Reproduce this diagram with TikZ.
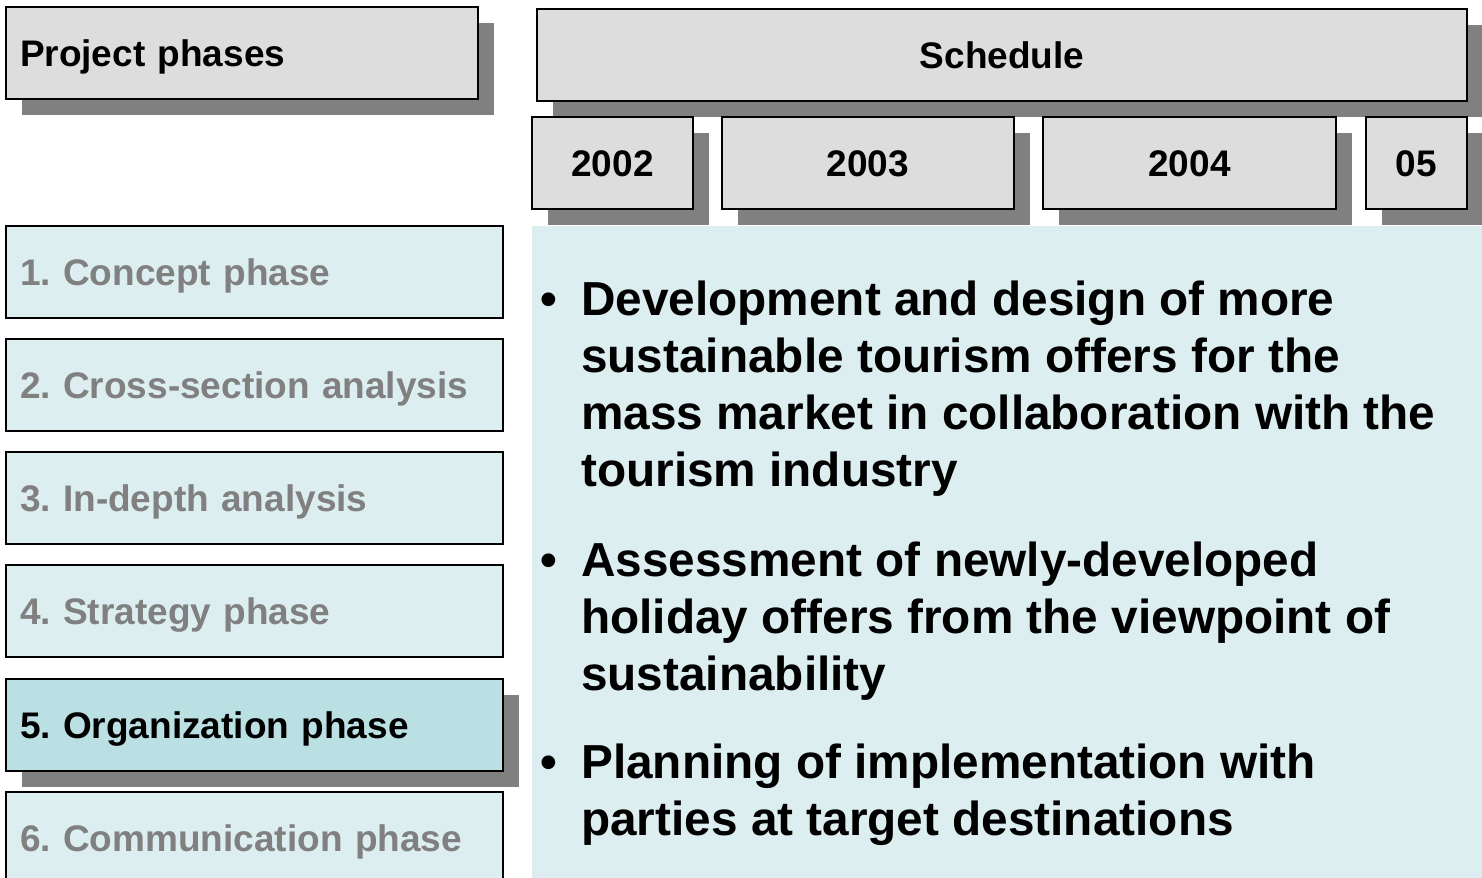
\documentclass[tikz,border=0pt]{standalone}
\usepackage{fontspec}
\setmainfont{Liberation Sans}
\usetikzlibrary{shadows}
\definecolor{hdrgray}{HTML}{DDDDDD}
\definecolor{shadowgray}{HTML}{808080}
\definecolor{panelblue}{HTML}{DDEEF0}
\definecolor{activeblue}{HTML}{BBE0E3}
\definecolor{mutedtext}{HTML}{808080}
\frenchspacing
\begin{document}
\begin{tikzpicture}[x=0.75pt,y=-0.75pt,
  box/.style={draw=black, line width=1.3pt, inner sep=0pt, minimum height=69pt},
  shad/.style={drop shadow={shadow xshift=12pt, shadow yshift=-12pt, fill=shadowgray, opacity=1}},
  lbl/.style={font=\bfseries\fontsize{27.75}{33}\selectfont, text height=19.9pt, text depth=0pt},
  hdr/.style={box, shad, fill=hdrgray, lbl},
  phase/.style={box, fill=panelblue, lbl, text=mutedtext, minimum width=372.75pt, text width=351.75pt, align=left},
  activephase/.style={phase, shad, fill=activeblue, text=black},
  bulletitem/.style={anchor=base west, inner sep=0pt, font=\bfseries\fontsize{35.8}{42.75}\selectfont}
]
\useasboundingbox (0,0) rectangle (1482,878);
\clip (0,0) rectangle (1482,878);
\fill[white] (0,0) rectangle (1482,878);

% content panel
\fill[panelblue] (532,226) rectangle (1482,878);

% headers
\node[hdr, minimum width=354pt, text width=333pt, align=left] (proj) at (242,53) {Project phases};
\node[hdr, minimum width=697.5pt] (sched) at (1002,55) {Schedule};

% years
\node[hdr, minimum width=120.75pt] (y2002) at (612.5,163) {2002};
\node[hdr, minimum width=219pt] (y2003) at (868,163) {2003};
\node[hdr, minimum width=219.75pt] (y2004) at (1189.5,163) {2004};
\node[hdr, minimum width=75.75pt] (y2005) at (1416.5,163) {05};

% phases
\node[phase] (p1) at (254.5,272) {1. Concept phase};
\node[phase] (p2) at (254.5,385) {2. Cross-section analysis};
\node[phase] (p3) at (254.5,498) {3. In-depth analysis};
\node[phase] (p4) at (254.5,611) {4. Strategy phase};
\node[activephase] (p5) at (254.5,725) {5. Organization phase};
\node[phase] (p6) at (254.5,838) {6. Communication phase};

% bullets
\node[bulletitem] (b1) at (540,315) {\begin{tabular}[t]{@{}l@{}l@{}}\makebox[30.75pt][l]{•}&Development and design of more\\ &sustainable tourism offers for the\\ &mass market in collaboration with the\\ &tourism industry\end{tabular}};
\node[bulletitem] (b2) at (540,576) {\begin{tabular}[t]{@{}l@{}l@{}}\makebox[30.75pt][l]{•}&Assessment of newly-developed\\ &holiday offers from the viewpoint of\\ &sustainability\end{tabular}};
\node[bulletitem] (b3) at (540,778) {\begin{tabular}[t]{@{}l@{}l@{}}\makebox[30.75pt][l]{•}&Planning of implementation with\\ &parties at target destinations\end{tabular}};
\end{tikzpicture}
\end{document}
